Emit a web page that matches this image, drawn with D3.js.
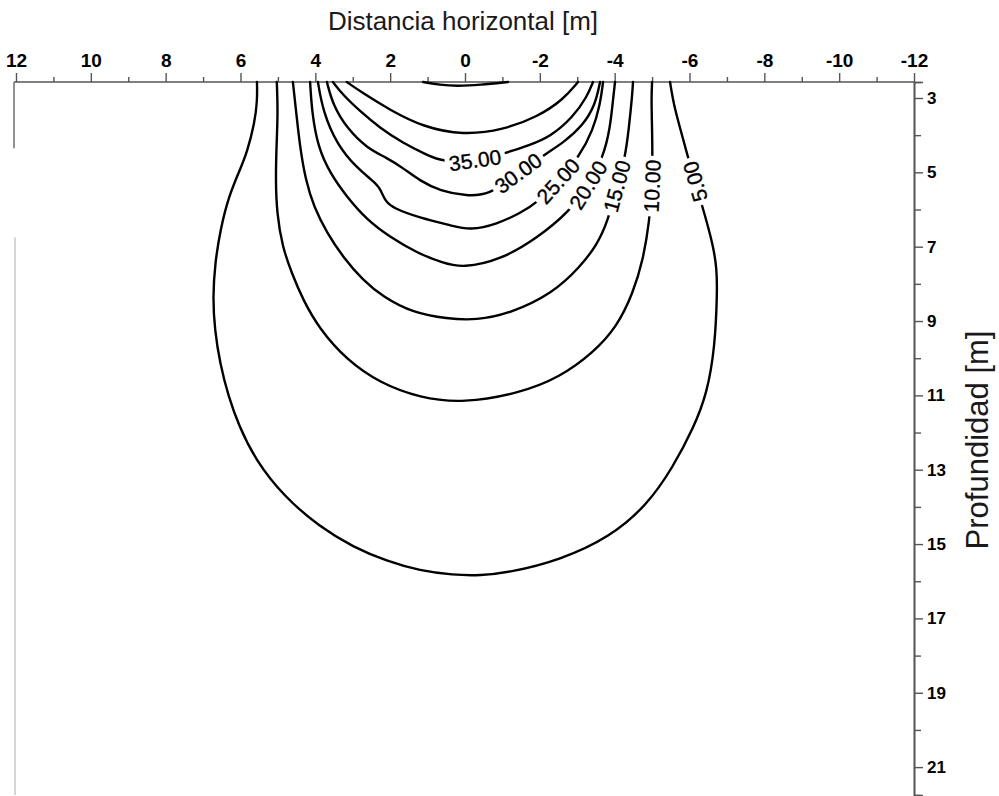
<!DOCTYPE html>
<html>
<head>
<meta charset="utf-8">
<script src="https://cdn.jsdelivr.net/npm/d3@7"></script>
<style>
  body { margin: 0; background: #fff; }
  svg { display: block; }
</style>
</head>
<body>
<svg id="chart" width="999" height="796"></svg>
<script>
// Isoline levels of the section
const levels = [5, 10, 15, 20, 25, 30, 35, 40, 45];
const levelLabels = ["5.00", "10.00", "15.00", "20.00", "25.00", "30.00", "35.00", null, null];

// Isoline vertices: [horizontal distance (m), depth (m)]
const iso05 = [[5.56,2.57],[5.55,3.05],[5.62,3.67],[5.83,4.48],[6.02,4.94],[6.32,5.66],[6.54,6.55],[6.68,7.44],[6.74,8.35],[6.69,9.24],[6.55,10.13],[6.32,11.04],[6.05,11.80],[5.60,12.74],[4.84,13.72],[3.88,14.54],[2.99,15.08],[2.09,15.46],[1.20,15.72],[0.32,15.83],[-0.40,15.85],[-1.20,15.76],[-2.54,15.43],[-3.88,14.81],[-4.87,13.95],[-5.56,12.93],[-6.12,11.85],[-6.47,10.94],[-6.68,9.70],[-6.74,8.25],[-6.73,7.60],[-6.63,6.95],[-6.38,6.04],[-6.15,5.25],[-5.94,4.53],[-5.75,3.81],[-5.58,3.19],[-5.48,2.57]];
const iso10 = [[5.03,2.57],[5.00,3.40],[5.04,4.32],[5.06,5.21],[5.03,6.09],[4.88,7.01],[4.63,7.71],[4.33,8.43],[3.90,9.20],[3.16,10.05],[2.27,10.67],[1.20,11.07],[0.05,11.21],[-1.47,10.94],[-2.54,10.51],[-3.42,9.86],[-4.06,9.16],[-4.49,8.25],[-4.76,7.36],[-4.93,6.31],[-5.00,5.37],[-5.01,4.61],[-5.00,3.81],[-4.98,3.00],[-5.00,2.57]];
const iso15 = [[4.60,2.57],[4.51,3.40],[4.41,4.32],[4.26,5.21],[4.04,5.93],[3.69,6.63],[3.26,7.28],[2.73,7.90],[2.19,8.35],[1.39,8.78],[0.48,8.94],[-0.30,8.98],[-1.20,8.80],[-2.35,8.25],[-3.07,7.55],[-3.53,6.95],[-3.82,6.31],[-4.06,5.37],[-4.28,4.61],[-4.38,3.81],[-4.47,2.92],[-4.49,2.57]];
const iso20 = [[4.14,2.57],[4.09,3.40],[3.93,4.32],[3.61,5.02],[3.16,5.66],[2.62,6.28],[2.01,6.74],[1.28,7.17],[0.59,7.44],[0.05,7.57],[-0.94,7.36],[-1.93,6.77],[-2.81,6.04],[-3.29,5.34],[-3.69,4.61],[-3.88,3.81],[-3.96,3.00],[-4.01,2.57]];
const iso25 = [[3.93,2.57],[3.80,3.35],[3.42,4.26],[2.89,4.88],[2.46,5.23],[2.27,5.42],[2.14,5.77],[1.93,5.96],[1.20,6.23],[0.32,6.44],[-0.13,6.56],[-0.86,6.39],[-1.47,6.10],[-1.93,5.82],[-2.49,5.23],[-3.07,4.56],[-3.42,3.86],[-3.61,3.19],[-3.69,2.57]];
const iso30 = [[3.69,2.57],[3.53,3.19],[3.16,3.81],[2.62,4.35],[2.09,4.61],[1.66,4.88],[1.20,5.23],[0.67,5.50],[-0.05,5.64],[-0.67,5.60],[-1.42,5.02],[-2.19,4.48],[-2.62,4.21],[-3.16,3.73],[-3.48,3.19],[-3.61,2.57]];
const iso35 = [[3.53,2.57],[3.26,2.92],[2.81,3.35],[2.27,3.81],[1.66,4.21],[1.02,4.53],[0.59,4.72],[-0.27,4.67],[-1.12,4.48],[-1.74,4.26],[-2.27,4.05],[-2.89,3.51],[-3.26,2.97],[-3.42,2.57]];
const iso40 = [[3.16,2.57],[2.73,2.87],[2.01,3.32],[1.12,3.78],[0.05,4.00],[-1.02,3.86],[-1.93,3.51],[-2.62,3.05],[-3.02,2.57]];
const iso45 = [[1.12,2.57],[0.67,2.65],[0.21,2.68],[-0.40,2.65],[-1.15,2.57]];
const isolines = [iso05, iso10, iso15, iso20, iso25, iso30, iso35, iso40, iso45];

// Label anchor on each isoline: [horizontal distance (m), depth (m)]
const labelPoints = [[-6.15,5.25],[-5.00,5.37],[-4.06,5.37],[-3.29,5.34],[-2.49,5.23],[-1.42,5.02],[-0.27,4.67], null, null];

// Axes
const xTicksMajor = [12, 10, 8, 6, 4, 2, 0, -2, -4, -6, -8, -10, -12];
const xTicksMinor = [11, 9, 7, 5, 3, 1, -1, -3, -5, -7, -9, -11];
const yTicksMajor = [3, 5, 7, 9, 11, 13, 15, 17, 19, 21];
const yTicksMinor = [4, 6, 8, 10, 12, 14, 16, 18, 20];
const xDomain = [12, -12];
const depthDomain = [2.57, 21.75];
const xTitle = "Distancia horizontal [m]";
const yTitle = "Profundidad [m]";

const svg = d3.select("#chart");
const FONT = "'Liberation Sans', Arial, Helvetica, sans-serif";

const x = d3.scaleLinear().domain(xDomain).range([16, 914]);
const y = d3.scaleLinear().domain(depthDomain).range([82, 795]);

const axisColor = "#555";

// Frame: top line and the partial left edge
svg.append("line")
  .attr("x1", x(12) - 2).attr("x2", x(-12))
  .attr("y1", y(depthDomain[0])).attr("y2", y(depthDomain[0]))
  .attr("stroke", axisColor).attr("stroke-width", 1.6);
svg.append("line")
  .attr("x1", x(12) - 2).attr("x2", x(12) - 2)
  .attr("y1", y(depthDomain[0])).attr("y2", y(4.35))
  .attr("stroke", "#777").attr("stroke-width", 1.6);
svg.append("line")
  .attr("x1", x(12) - 1).attr("x2", x(12) - 1)
  .attr("y1", y(6.75)).attr("y2", y(depthDomain[1]))
  .attr("stroke", "#c4c4c4").attr("stroke-width", 1.4);

// Top axis (horizontal distance)
const gTop = svg.append("g").attr("transform", `translate(0,${y(depthDomain[0])})`);
gTop.call(d3.axisTop(x).tickValues(xTicksMajor).tickSize(9).tickPadding(6)
  .tickFormat(d => String(d)));
gTop.append("g").call(d3.axisTop(x).tickValues(xTicksMinor).tickSize(5).tickFormat(""));
gTop.selectAll(".domain").remove();
gTop.selectAll(".tick line").attr("stroke", axisColor).attr("stroke-width", 1.4);
gTop.selectAll(".tick text")
  .attr("fill", "#000").attr("font-family", FONT)
  .attr("font-size", 19).attr("font-weight", "bold");

// Right axis (depth)
const gRight = svg.append("g").attr("transform", `translate(${x(-12)},0)`);
gRight.call(d3.axisRight(y).tickValues(yTicksMajor).tickSize(9).tickPadding(4)
  .tickFormat(d => String(d)));
gRight.append("g").call(d3.axisRight(y).tickValues(yTicksMinor).tickSize(7).tickFormat(""));
gRight.selectAll(".domain").attr("stroke", axisColor).attr("stroke-width", 1.6);
gRight.selectAll(".tick line").attr("stroke", axisColor).attr("stroke-width", 1.4);
gRight.selectAll(".tick text")
  .attr("fill", "#000").attr("font-family", FONT)
  .attr("font-size", 17).attr("font-weight", "bold");

// Axis titles
svg.append("text")
  .attr("x", x(0) - 2).attr("y", 30)
  .attr("text-anchor", "middle")
  .attr("font-family", FONT).attr("font-size", 26)
  .attr("fill", "#1a1a1a")
  .text(xTitle);
svg.append("text")
  .attr("transform", `translate(988,${y(12.2)}) rotate(-90)`)
  .attr("text-anchor", "middle")
  .attr("font-family", FONT).attr("font-size", 31)
  .attr("fill", "#1a1a1a")
  .text(yTitle);

// Isolines with in-line labels (smoothed through the vertices)
const line = d3.line()
  .x(d => x(d[0]))
  .y(d => y(d[1]))
  .curve(d3.curveBasis);

const defs = svg.append("defs");
const gIso = svg.append("g");
const gLab = svg.append("g");

isolines.forEach((pts, i) => {
  const path = gIso.append("path")
    .attr("d", line(pts))
    .attr("fill", "none")
    .attr("stroke", "#000")
    .attr("stroke-width", 2.4)
    .attr("stroke-linejoin", "round")
    .attr("stroke-linecap", "round");

  const lp = labelPoints[i];
  if (!lp || !levelLabels[i]) return;

  // nearest vertex gives the local direction of the isoline
  let k = 0, best = Infinity;
  pts.forEach((p, j) => {
    const dd = (x(p[0]) - x(lp[0])) ** 2 + (y(p[1]) - y(lp[1])) ** 2;
    if (dd < best) { best = dd; k = j; }
  });
  const a = pts[Math.max(0, k - 1)], b = pts[Math.min(pts.length - 1, k + 1)];
  let dx = x(b[0]) - x(a[0]), dy = y(b[1]) - y(a[1]);
  if (dy > 0) { dx = -dx; dy = -dy; }
  const ang = Math.atan2(dy, dx) * 180 / Math.PI;
  const cx = x(lp[0]), cy = y(lp[1]);

  const t = gLab.append("text")
    .attr("transform", `translate(${cx},${cy}) rotate(${ang})`)
    .attr("text-anchor", "middle")
    .attr("dy", "0.36em")
    .attr("font-family", FONT)
    .attr("font-size", 21)
    .attr("fill", "#000")
    .attr("stroke", "#000").attr("stroke-width", 0.35)
    .text(levelLabels[i]);
  const w = t.node().getComputedTextLength() + 8;
  const h = 18;

  const m = defs.append("mask")
    .attr("id", "iso-mask-" + levels[i])
    .attr("maskUnits", "userSpaceOnUse")
    .attr("x", 0).attr("y", 0).attr("width", 999).attr("height", 796);
  m.append("rect").attr("x", 0).attr("y", 0).attr("width", 999).attr("height", 796).attr("fill", "#fff");
  m.append("rect")
    .attr("x", -w / 2).attr("y", -h / 2).attr("width", w).attr("height", h)
    .attr("transform", `translate(${cx},${cy}) rotate(${ang})`)
    .attr("fill", "#000");
  path.attr("mask", `url(#iso-mask-${levels[i]})`);
});
</script>
</body>
</html>
